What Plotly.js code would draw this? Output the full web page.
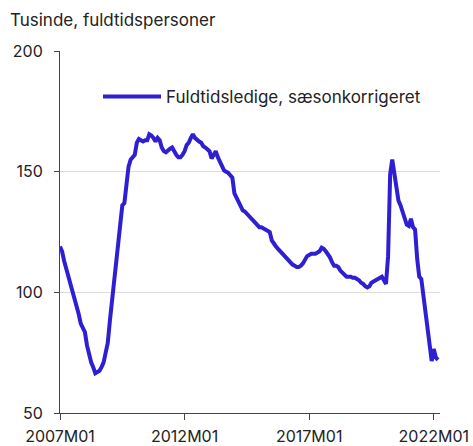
<!DOCTYPE html>
<html>
<head>
<meta charset="utf-8">
<script src="https://cdn.plot.ly/plotly-3.0.1.min.js"></script>
<style>html,body{margin:0;padding:0;background:#fff;}#chart{width:473px;height:446px;}</style>
</head>
<body>
<div id="chart"></div>
<script>
// Monthly values, 2007M01 .. 2022M03 (thousand full-time persons)
var startYear = 2007;
var values = [
  // 2007
  119, 117, 113, 110, 107, 104, 101, 98, 94, 91, 87, 85,
  // 2008
  83.5, 78, 74, 71, 69, 66.5, 67, 67.5, 69, 71, 75, 79,
  // 2009
  88, 96, 104, 114, 123, 131, 136, 137, 145, 152, 155, 156,
  // 2010
  157, 162, 163.5, 163, 162.5, 163, 163, 165.5, 165, 164, 162.5, 164,
  // 2011
  163, 160, 158.5, 158, 159, 159.5, 160, 158, 157, 156, 156, 157,
  // 2012
  158.5, 161, 162, 164, 165.5, 164, 163, 162.5, 162, 160.5, 160, 159,
  // 2013
  158.5, 155.5, 157, 158.5, 156, 154, 152, 150.5, 150, 149.5, 148.5, 147.5,
  // 2014
  141, 139, 137.5, 135.5, 134, 133.5, 132.5, 131.5, 130.5, 129.5, 128.5, 128,
  // 2015
  127, 127, 126.5, 126, 125.5, 125, 121.5, 120, 119, 118, 117, 116,
  // 2016
  115, 114, 113, 112.5, 111.5, 111, 110.5, 110.5, 111, 112, 113.5, 115,
  // 2017
  115.5, 116, 116, 116, 116.5, 117, 118.5, 118, 117, 116, 114.5, 112.5,
  // 2018
  111, 111, 110.5, 109, 108, 107, 106.5, 106.5, 106.5, 106, 106, 105.5,
  // 2019
  105, 104, 103.5, 102.5, 102, 102.5, 104, 104.5, 105, 105.5, 106, 106.5,
  // 2020
  105, 103.5, 115, 149, 155, 150, 143, 138, 136, 133, 130, 128,
  // 2021
  127.5, 130.5, 127, 126, 114, 106.5, 105.5, 99, 93, 87.5, 79, 71.5,
  // 2022
  76.5, 73, 72
];
var categories = values.map(function (v, i) {
  var y = startYear + Math.floor(i / 12);
  var m = (i % 12) + 1;
  return y + "M" + (m < 10 ? "0" + m : m);
});
var tickLabels = ["2007M01", "2012M01", "2017M01", "2022M01"];
var yTicks = [50, 100, 150, 200];
var seriesName = "Fuldtidsledige, sæsonkorrigeret";

var xIdx = categories.map(function (c, i) { return i; });
var tickIdx = tickLabels.map(function (t) { return categories.indexOf(t); });

var font = "Inter, 'Liberation Sans', Arial, sans-serif";

var trace = {
  x: xIdx,
  y: values,
  text: categories,
  type: "scatter",
  mode: "lines",
  name: seriesName,
  line: { color: "#2f1fd3", width: 4 },
  hovertemplate: "%{text}: %{y}<extra></extra>"
};

var layout = {
  width: 473,
  height: 446,
  margin: { l: 60, r: 33, t: 51, b: 33 },
  paper_bgcolor: "#ffffff",
  plot_bgcolor: "#ffffff",
  font: { family: font, size: 16, color: "#222" },
  showlegend: true,
  legend: {
    x: 0.1, y: 0.873, xanchor: "left", yanchor: "middle",
    itemwidth: 58,
    bgcolor: "rgba(0,0,0,0)",
    font: { family: font, size: 17, color: "#222" }
  },
  annotations: [{
    text: "Tusinde, fuldtidspersoner",
    xref: "paper", yref: "paper",
    x: -0.137, y: 1.085, xanchor: "left", yanchor: "middle",
    showarrow: false,
    font: { family: font, size: 17, color: "#222" }
  }],
  xaxis: {
    range: [0, 183],
    tickmode: "array",
    tickvals: tickIdx,
    ticktext: tickLabels,
    ticks: "outside",
    ticklen: 6,
    tickcolor: "#444",
    ticklabelstandoff: 3,
    showgrid: false,
    showline: true,
    linecolor: "#444",
    linewidth: 1,
    zeroline: false,
    tickfont: { family: font, size: 16, color: "#222" }
  },
  yaxis: {
    range: [50, 200],
    tickmode: "array",
    tickvals: yTicks,
    ticks: "outside",
    ticklen: 5,
    tickcolor: "#444",
    ticklabelstandoff: 8,
    showgrid: true,
    gridcolor: "#dddddd",
    gridwidth: 1,
    showline: true,
    linecolor: "#444",
    linewidth: 1,
    zeroline: false,
    tickfont: { family: font, size: 16, color: "#222" }
  }
};

Plotly.newPlot("chart", [trace], layout, { displayModeBar: false, staticPlot: true });
</script>
</body>
</html>
